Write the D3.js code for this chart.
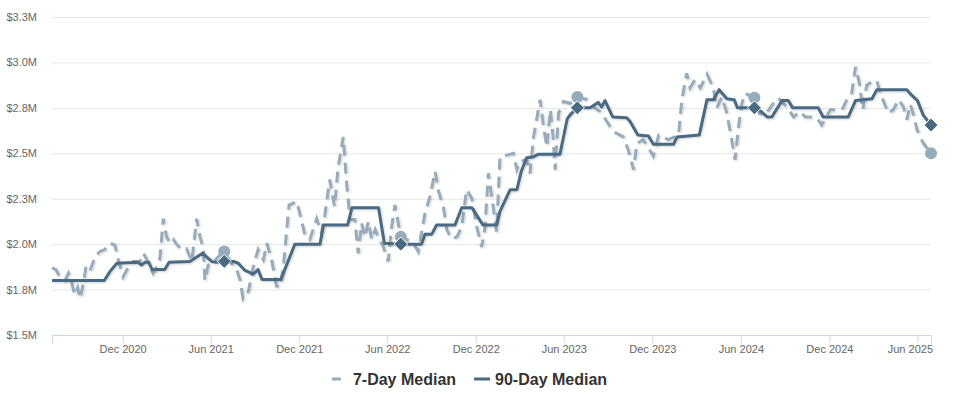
<!DOCTYPE html>
<html>
<head>
<meta charset="utf-8">
<script src="https://cdn.jsdelivr.net/npm/d3@7"></script>
<style>
  html, body { margin: 0; padding: 0; background: #fff; }
  #root { width: 959px; height: 397px; }
  text { font-family: "Liberation Sans", Arial, Helvetica, sans-serif; }
</style>
</head>
<body>
<div id="root"></div>
<script>
// 7-day median (millions $)
const dates7 = [
  "2020-07-08","2020-07-16","2020-07-24","2020-08-04","2020-08-11","2020-08-18","2020-08-24","2020-08-30",
  "2020-09-04","2020-09-11","2020-09-16","2020-09-24","2020-10-05","2020-10-15","2020-10-25","2020-11-05",
  "2020-11-15","2020-11-22","2020-12-02","2020-12-13","2020-12-23","2021-01-06","2021-01-13","2021-01-20",
  "2021-01-26","2021-02-02","2021-02-09","2021-02-16","2021-02-23","2021-03-02","2021-03-09","2021-03-16",
  "2021-03-24","2021-04-02","2021-04-12","2021-04-23","2021-05-03","2021-05-10","2021-05-17","2021-05-20",
  "2021-05-27","2021-06-05","2021-06-13","2021-06-22","2021-06-29","2021-07-14","2021-07-25","2021-08-01",
  "2021-08-07","2021-08-18","2021-08-28","2021-09-07","2021-09-18","2021-09-25","2021-10-05","2021-10-15",
  "2021-10-22","2021-10-29","2021-11-10","2021-11-26","2021-12-13","2021-12-23","2022-01-06","2022-01-16",
  "2022-01-23","2022-02-02","2022-02-12","2022-02-19","2022-03-02","2022-03-09","2022-03-16","2022-03-26",
  "2022-04-02","2022-04-09","2022-04-16","2022-04-23","2022-04-30","2022-05-07","2022-05-13","2022-05-24",
  "2022-06-03","2022-06-10","2022-06-17","2022-06-29","2022-07-11","2022-07-25","2022-08-04","2022-08-18",
  "2022-08-28","2022-09-08","2022-09-15","2022-09-25","2022-10-02","2022-10-12","2022-10-23","2022-11-02",
  "2022-11-12","2022-11-23","2022-12-03","2022-12-13","2022-12-20","2022-12-27","2023-01-06","2023-01-13",
  "2023-01-20","2023-02-03","2023-02-17","2023-02-24","2023-03-02","2023-03-16","2023-03-23","2023-03-30",
  "2023-04-13","2023-04-20","2023-04-27","2023-05-04","2023-05-10","2023-05-14","2023-05-21","2023-05-31",
  "2023-06-14","2023-06-29","2023-07-19","2023-08-01","2023-08-15","2023-08-29","2023-09-11","2023-10-02",
  "2023-10-12","2023-10-23","2023-10-30","2023-11-12","2023-11-23","2023-12-03","2023-12-14","2024-01-03",
  "2024-01-24","2024-01-31","2024-02-10","2024-02-17","2024-02-27","2024-03-09","2024-03-23","2024-04-05",
  "2024-04-12","2024-04-23","2024-05-03","2024-05-13","2024-05-20","2024-05-27","2024-06-03","2024-06-10",
  "2024-06-29","2024-07-09","2024-07-21","2024-08-07","2024-08-17","2024-09-04","2024-09-18","2024-10-01",
  "2024-10-12","2024-10-22","2024-11-05","2024-11-15","2024-11-24","2024-12-03","2024-12-16","2024-12-27",
  "2025-01-06","2025-01-16","2025-01-24","2025-02-01","2025-02-08","2025-02-16","2025-02-27","2025-03-09",
  "2025-03-16","2025-03-26","2025-04-02","2025-04-12","2025-04-23","2025-05-03","2025-05-10","2025-05-17",
  "2025-05-23","2025-05-31","2025-06-07","2025-06-13","2025-06-29"
]
const median7 = [
  1.87,1.86,1.82,1.80,1.84,1.785,1.72,1.76,
  1.70,1.785,1.875,1.85,1.93,1.96,1.97,2.005,
  1.995,1.915,1.82,1.875,1.905,1.905,1.95,1.915,
  1.875,1.84,1.875,1.92,2.14,2.04,2.005,2.025,
  1.995,1.97,1.975,1.905,2.14,2.04,1.97,1.80,
  1.885,1.895,1.92,1.945,1.96,1.895,1.86,1.80,
  1.70,1.74,1.875,1.97,1.915,2.005,1.915,1.77,
  1.765,1.87,2.215,2.235,2.05,2.025,2.14,2.06,
  2.16,2.355,2.205,2.415,2.59,2.335,2.135,2.135,
  1.95,2.115,2.04,2.125,2.025,2.08,2.04,1.985,
  1.905,2.095,2.215,2.04,2.025,2.005,1.96,2.17,
  2.26,2.40,2.29,2.205,2.08,2.03,2.04,2.095,
  2.30,2.25,2.095,1.985,2.09,2.39,2.205,2.07,
  2.48,2.49,2.50,2.41,2.455,2.465,2.39,2.585,
  2.795,2.645,2.535,2.74,2.585,2.41,2.72,2.785,
  2.775,2.81,2.795,2.755,2.73,2.675,2.62,2.59,
  2.52,2.41,2.555,2.575,2.53,2.485,2.60,2.575,
  2.60,2.795,2.94,2.86,2.905,2.86,2.935,2.86,
  2.75,2.81,2.72,2.575,2.465,2.645,2.775,2.83,
  2.805,2.72,2.71,2.775,2.805,2.755,2.70,2.73,
  2.70,2.70,2.695,2.655,2.70,2.74,2.74,2.74,
  2.795,2.83,2.975,2.885,2.74,2.875,2.895,2.90,
  2.83,2.765,2.72,2.74,2.795,2.755,2.685,2.77,
  2.72,2.63,2.59,2.555,2.50
]

// 90-day median (millions $)
const dates90 = [
  "2020-07-08","2020-10-24","2020-11-05","2020-11-19","2021-01-02","2021-01-09","2021-01-16","2021-01-24",
  "2021-01-31","2021-02-26","2021-03-07","2021-04-19","2021-05-15","2021-06-03","2021-06-13","2021-06-29",
  "2021-07-18","2021-07-28","2021-08-11","2021-08-28","2021-09-07","2021-09-15","2021-10-24","2021-11-22",
  "2022-01-13","2022-01-20","2022-03-11","2022-03-20","2022-05-14","2022-05-26","2022-06-29","2022-08-11",
  "2022-08-18","2022-09-01","2022-09-11","2022-10-19","2022-11-02","2022-11-23","2022-12-16","2023-01-13",
  "2023-01-20","2023-02-10","2023-02-24","2023-03-05","2023-03-16","2023-03-30","2023-04-09","2023-05-24",
  "2023-06-08","2023-06-17","2023-06-29","2023-07-25","2023-08-11","2023-08-18","2023-08-25","2023-09-10",
  "2023-10-09","2023-10-16","2023-11-01","2023-11-23","2023-12-03","2024-01-14","2024-01-21","2024-03-07",
  "2024-03-23","2024-04-05","2024-04-17","2024-05-03","2024-05-18","2024-05-25","2024-06-29","2024-07-13",
  "2024-07-25","2024-08-04","2024-08-25","2024-09-07","2024-09-16","2024-11-08","2024-11-18","2025-01-09",
  "2025-01-24","2025-02-09","2025-02-27","2025-03-09","2025-05-10","2025-05-20","2025-06-01","2025-06-13",
  "2025-06-29"
]
const median90 = [
  1.80,1.80,1.85,1.895,1.90,1.885,1.90,1.90,
  1.86,1.86,1.90,1.905,1.95,1.905,1.90,1.905,
  1.905,1.895,1.855,1.835,1.86,1.805,1.805,2.00,
  2.00,2.105,2.105,2.20,2.20,2.005,2.00,2.00,
  2.055,2.055,2.105,2.105,2.20,2.20,2.105,2.105,
  2.18,2.30,2.30,2.40,2.475,2.48,2.495,2.495,
  2.69,2.72,2.75,2.75,2.78,2.755,2.79,2.70,
  2.695,2.675,2.60,2.595,2.55,2.55,2.59,2.60,
  2.795,2.795,2.85,2.80,2.795,2.75,2.75,2.73,
  2.70,2.70,2.79,2.79,2.75,2.75,2.70,2.70,
  2.79,2.795,2.80,2.85,2.85,2.82,2.79,2.71,
  2.655
]

// same day each year gets a marker
const markerDates = ["2021-06-29","2022-06-29","2023-06-29","2024-06-29","2025-06-29"]

const yTicks = [1.5, 1.75, 2.0, 2.25, 2.5, 2.75, 3.0, 3.25]
const yTickLabels = ["$1.5M","$1.8M","$2.0M","$2.3M","$2.5M","$2.8M","$3.0M","$3.3M"]

const xTickDates = ["2020-12-01","2021-06-01","2021-12-01","2022-06-01","2022-12-01",
                    "2023-06-01","2023-12-01","2024-06-01","2024-12-01","2025-06-01"]
const xTickLabels = ["Dec 2020","Jun 2021","Dec 2021","Jun 2022","Dec 2022",
                     "Jun 2023","Dec 2023","Jun 2024","Dec 2024","Jun 2025"]

const seriesNames = ["7-Day Median", "90-Day Median"]
const colors = { light: "#97abba", dark: "#4a6a81" }

function draw() {
  const parse = d3.timeParse("%Y-%m-%d")
  const width = 959
  const height = 397
  const margin = { top: 17, right: 28, bottom: 62, left: 52 }
  const bw = width - margin.left - margin.right
  const bh = height - margin.top - margin.bottom

  const s7 = dates7.map((d, i) => ({ date: parse(d), value: median7[i] }))
  const s90 = dates90.map((d, i) => ({ date: parse(d), value: median90[i] }))

  const svg = d3.select("#root").append("svg")
    .attr("width", width)
    .attr("height", height)

  const defs = svg.append("defs")
  const shadow = defs.append("filter").attr("id", "shadow")
    .attr("x", "-5%").attr("y", "-5%").attr("width", "110%").attr("height", "110%")
  shadow.append("feDropShadow")
    .attr("dx", 1).attr("dy", 1).attr("stdDeviation", 1)
    .attr("flood-color", "#000").attr("flood-opacity", 0.18)

  const bounds = svg.append("g")
    .attr("transform", `translate(${margin.left},${margin.top})`)

  const x = d3.scaleTime()
    .domain([parse("2020-07-08"), parse("2025-06-29")])
    .range([0, bw])

  const y = d3.scaleLinear()
    .domain([1.5, 3.25])
    .range([bh, 0])

  // y axis + gridlines
  const yAxis = bounds.append("g")
    .call(d3.axisLeft(y)
      .tickValues(yTicks)
      .tickFormat((d, i) => yTickLabels[i])
      .tickSize(-bw)
      .tickPadding(15))
  yAxis.select(".domain").remove()
  yAxis.selectAll(".tick line").attr("stroke", "#e6e6e6")
  yAxis.selectAll(".tick text")
    .attr("fill", "#666")
    .style("font-size", "11px")
    .style("font-family", "'Liberation Sans', Arial, sans-serif")

  // x axis
  const xAxis = bounds.append("g")
    .attr("transform", `translate(0,${bh})`)
    .call(d3.axisBottom(x)
      .tickValues(xTickDates.map(parse))
      .tickFormat((d, i) => xTickLabels[i])
      .tickSizeOuter(0)
      .tickSize(8)
      .tickPadding(2))
  xAxis.select(".domain").attr("stroke", "#ccd6eb")
  xAxis.selectAll(".tick line").attr("stroke", "#ccd6eb")
  xAxis.selectAll(".tick text")
    .attr("fill", "#666")
    .style("font-size", "11px")
    .style("font-family", "'Liberation Sans', Arial, sans-serif")
    .each(function () {
      // keep the last label inside the plot like the original
      const w = this.getComputedTextLength()
      const tx = d3.select(this.parentNode).attr("transform")
      const cx = +tx.match(/translate\(([-\d.]+)/)[1]
      const over = cx + w / 2 - (bw + 2)
      if (over > 0) d3.select(this).attr("x", -over)
    })

  const line = d3.line()
    .x(d => x(d.date))
    .y(d => y(d.value))

  // 7-day dashed line
  bounds.append("path")
    .datum(s7)
    .attr("fill", "none")
    .attr("stroke", colors.light)
    .attr("stroke-width", 3)
    .attr("stroke-dasharray", "11,7")
    .attr("filter", "url(#shadow)")
    .attr("d", line)

  const markerSet = new Set(markerDates)
  bounds.append("g").selectAll("circle")
    .data(s7.filter(d => markerSet.has(d3.timeFormat("%Y-%m-%d")(d.date))))
    .join("circle")
    .attr("cx", d => x(d.date))
    .attr("cy", d => y(d.value))
    .attr("r", 6)
    .attr("fill", colors.light)

  // 90-day solid line
  bounds.append("path")
    .datum(s90)
    .attr("fill", "none")
    .attr("stroke", colors.dark)
    .attr("stroke-width", 3)
    .attr("stroke-linejoin", "round")
    .attr("filter", "url(#shadow)")
    .attr("d", line)

  bounds.append("g").selectAll("path")
    .data(s90.filter(d => markerSet.has(d3.timeFormat("%Y-%m-%d")(d.date))))
    .join("path")
    .attr("transform", d => `translate(${x(d.date)},${y(d.value)})`)
    .attr("d", "M0,-7L7,0L0,7L-7,0Z")
    .attr("fill", colors.dark)
    .attr("stroke", "#fff")
    .attr("stroke-width", 1)

  // legend
  const legend = svg.append("g")
  const items = [
    { name: seriesNames[0], color: colors.light, dash: "9,7" },
    { name: seriesNames[1], color: colors.dark, dash: null },
  ]
  const itemGap = 18
  let cursor = 0
  items.forEach(it => {
    const g = legend.append("g").attr("transform", `translate(${cursor},0)`)
    g.append("line")
      .attr("x1", 0).attr("x2", 16)
      .attr("y1", 0).attr("y2", 0)
      .attr("stroke", it.color)
      .attr("stroke-width", 3)
      .attr("stroke-dasharray", it.dash)
    const t = g.append("text")
      .attr("x", 21)
      .attr("y", 5.5)
      .attr("fill", "#333")
      .style("font-size", "16px")
      .style("font-weight", "bold")
      .text(it.name)
    cursor += 21 + t.node().getComputedTextLength() + itemGap
  })
  const total = cursor - itemGap
  legend.attr("transform", `translate(${469.5 - total / 2},379)`)
}

draw()
</script>
</body>
</html>
